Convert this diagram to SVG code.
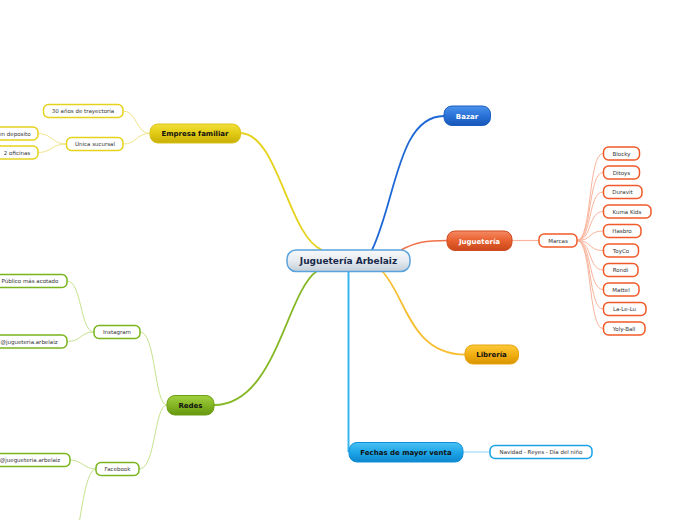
<svg xmlns="http://www.w3.org/2000/svg" width="696" height="520" viewBox="0 0 696 520">
<defs>
<linearGradient id="gC" x1="0" y1="0" x2="0" y2="1"><stop offset="0" stop-color="#f7f9fb"/><stop offset="0.5" stop-color="#e6ebf0"/><stop offset="1" stop-color="#c3ced8"/></linearGradient>
<linearGradient id="gY" x1="0" y1="0" x2="0" y2="1"><stop offset="0" stop-color="#f2e03a"/><stop offset="0.5" stop-color="#e2cb14"/><stop offset="1" stop-color="#c6ae06"/></linearGradient>
<linearGradient id="gB" x1="0" y1="0" x2="0" y2="1"><stop offset="0" stop-color="#4b93ea"/><stop offset="0.5" stop-color="#2a72d8"/><stop offset="1" stop-color="#1656b8"/></linearGradient>
<linearGradient id="gO" x1="0" y1="0" x2="0" y2="1"><stop offset="0" stop-color="#f58a64"/><stop offset="0.5" stop-color="#e8602e"/><stop offset="1" stop-color="#c9481c"/></linearGradient>
<linearGradient id="gA" x1="0" y1="0" x2="0" y2="1"><stop offset="0" stop-color="#fcca3a"/><stop offset="0.5" stop-color="#f2b012"/><stop offset="1" stop-color="#d99400"/></linearGradient>
<linearGradient id="gL" x1="0" y1="0" x2="0" y2="1"><stop offset="0" stop-color="#4cc2f4"/><stop offset="0.5" stop-color="#1ea6e8"/><stop offset="1" stop-color="#0d86cc"/></linearGradient>
<linearGradient id="gG" x1="0" y1="0" x2="0" y2="1"><stop offset="0" stop-color="#a2d040"/><stop offset="0.5" stop-color="#84b524"/><stop offset="1" stop-color="#66960e"/></linearGradient>
</defs>
<style>
text{font-family:"DejaVu Sans",Verdana,sans-serif;}
.main{font-size:7px;font-weight:bold;text-anchor:middle;}
.sub{font-size:5.5px;fill:#333;text-anchor:middle;}
.leaf{fill:#fff;stroke-width:1.5;}
.y{stroke:#e5d21c;} .g{stroke:#7ab51d;} .o{stroke:#f05a28;} .c{stroke:#1aa3e8;}
.cn{fill:none;}
</style>
<g id="connectors">
<path class="cn" d="M240,133 C278,133 288,236 322,250" stroke="#e5d21c" stroke-width="1.8"/>
<path class="cn" d="M372,250 C396,200 398,116 444,116" stroke="#1e68d6" stroke-width="1.8"/>
<path class="cn" d="M401,250 C416,242 426,240.5 447,240.5" stroke="#f07048" stroke-width="1.5"/>
<path class="cn" d="M382,271 C406,296 410,354.5 465,354.5" stroke="#f7be30" stroke-width="1.8"/>
<path class="cn" d="M348.5,271 L348.5,452" stroke="#38b4f0" stroke-width="2"/>
<path class="cn" d="M317,271 C286,292 276,405 214,405" stroke="#86b826" stroke-width="1.8"/>
<path class="cn" d="M463,452 L490,452" stroke="#8fd2f4" stroke-width="1"/>
<path class="cn" d="M512,240.5 L539,240.5" stroke="#f9b49c" stroke-width="1.2"/>
<g stroke="#f9b49c" stroke-width="1" fill="none">
<path d="M577,240.5 C592,240.5 588,153.5 603,153.5"/>
<path d="M577,240.5 C592,240.5 588,172.5 603,172.5"/>
<path d="M577,240.5 C592,240.5 588,192 603,192"/>
<path d="M577,240.5 C592,240.5 588,211.5 603,211.5"/>
<path d="M577,240.5 C592,240.5 588,231 603,231"/>
<path d="M577,240.5 C592,240.5 588,250.5 603,250.5"/>
<path d="M577,240.5 C592,240.5 588,270 603,270"/>
<path d="M577,240.5 C592,240.5 588,289.5 603,289.5"/>
<path d="M577,240.5 C592,240.5 588,309 603,309"/>
<path d="M577,240.5 C592,240.5 588,328.5 603,328.5"/>
</g>
<g stroke="#f1e58a" stroke-width="1" fill="none">
<path d="M150,133.5 C136,133.5 137,111 123,111"/>
<path d="M150,133.5 C136,133.5 137,144 123,144"/>
<path d="M66,144 C52,144 52,133.5 38,133.5"/>
<path d="M66,144 C52,144 52,152.5 38,152.5"/>
</g>
<g stroke="#c6e28e" stroke-width="1" fill="none">
<path d="M167,405 C154,405 156,332 140,332"/>
<path d="M167,405 C154,405 156,469 139,469"/>
<path d="M94,332 C80,332 82,281 67,281"/>
<path d="M94,332 C80,332 82,341.5 67,341.5"/>
<path d="M96,469 C84,469 82,460 70,460"/>
<path d="M96,469 C86,469 82,510 76,540"/>
</g>
</g>
<g id="central">
<rect x="287" y="250" width="123" height="21.5" rx="9" fill="url(#gC)" stroke="#5aa3dc" stroke-width="1.5"/>
<text x="348.5" y="264" style="font-size:9px;font-weight:bold;text-anchor:middle;fill:#17284a">Juguetería Arbelaiz</text>
</g>
<g id="empresa">
<rect x="150" y="124" width="90.5" height="19" rx="8" fill="url(#gY)" stroke="#d9c316" stroke-width="1"/>
<text class="main" x="195" y="136" fill="#111">Empresa familiar</text>
</g>
<g id="trayectoria"><rect class="leaf y" x="43.5" y="104.5" width="79.5" height="13" rx="5"/><text class="sub" x="83" y="113">30 años de trayectoria</text></g>
<g id="sucursal"><rect class="leaf y" x="66.5" y="137.5" width="56.5" height="13" rx="5"/><text class="sub" x="95" y="146">Única sucursal</text></g>
<g id="deposito"><rect class="leaf y" x="-20" y="127" width="58" height="13" rx="5"/><text class="sub" x="30.5" y="135.5" style="text-anchor:end">en deposito</text></g>
<g id="oficinas"><rect class="leaf y" x="-20" y="146" width="58" height="13" rx="5"/><text class="sub" x="17" y="154.5">2 oficinas</text></g>
<g id="bazar">
<rect x="444" y="106" width="46.5" height="19.5" rx="8" fill="url(#gB)" stroke="#1a5cc0" stroke-width="1"/>
<text class="main" x="467" y="118.5" fill="#fff">Bazar</text>
</g>
<g id="jugueteria">
<rect x="447" y="231" width="65" height="19.5" rx="8" fill="url(#gO)" stroke="#d04a20" stroke-width="1"/>
<text class="main" x="479.5" y="243.5" fill="#fff">Juguetería</text>
</g>
<g id="marcas"><rect class="leaf o" x="539" y="234" width="38" height="13" rx="5"/><text class="sub" x="558" y="242.5">Marcas</text></g>
<g id="blocky"><rect class="leaf o" x="603.5" y="147" width="36" height="13" rx="5"/><text class="sub" x="621.5" y="155.5">Blocky</text></g>
<g id="ditoys"><rect class="leaf o" x="603.5" y="166" width="36" height="13" rx="5"/><text class="sub" x="621.5" y="174.5">Ditoys</text></g>
<g id="duravit"><rect class="leaf o" x="603.5" y="185.5" width="38.5" height="13" rx="5"/><text class="sub" x="622.5" y="194">Duravit</text></g>
<g id="kuma"><rect class="leaf o" x="603.5" y="205" width="47.5" height="13" rx="5"/><text class="sub" x="627" y="213.5">Kuma Kids</text></g>
<g id="hasbro"><rect class="leaf o" x="603.5" y="224.5" width="37.5" height="13" rx="5"/><text class="sub" x="622" y="233">Hasbro</text></g>
<g id="toyco"><rect class="leaf o" x="603.5" y="244" width="35" height="13" rx="5"/><text class="sub" x="621" y="252.5">ToyCo</text></g>
<g id="rondi"><rect class="leaf o" x="603.5" y="263.5" width="34.5" height="13" rx="5"/><text class="sub" x="620.5" y="272">Rondi</text></g>
<g id="mattel"><rect class="leaf o" x="603.5" y="283" width="35.5" height="13" rx="5"/><text class="sub" x="621" y="291.5">Mattel</text></g>
<g id="lalelu"><rect class="leaf o" x="603.5" y="302.5" width="42.5" height="13" rx="5"/><text class="sub" x="624.5" y="311">La-Le-Lu</text></g>
<g id="yolyball"><rect class="leaf o" x="603.5" y="322" width="41.5" height="13" rx="5"/><text class="sub" x="624" y="330.5">Yoly-Ball</text></g>
<g id="libreria">
<rect x="465" y="345" width="53.5" height="19" rx="8" fill="url(#gA)" stroke="#e6a410" stroke-width="1"/>
<text class="main" x="491.5" y="357" fill="#111">Librería</text>
</g>
<g id="fechas">
<rect x="349" y="442.5" width="114" height="19.5" rx="8" fill="url(#gL)" stroke="#1090d8" stroke-width="1"/>
<text class="main" x="406" y="455" fill="#111">Fechas de mayor venta</text>
</g>
<g id="navidad"><rect class="leaf c" x="490" y="445.5" width="102" height="13" rx="5"/><text class="sub" x="541" y="454">Navidad - Reyes - Día del niño</text></g>
<g id="redes">
<rect x="167" y="395.5" width="47" height="19.5" rx="8" fill="url(#gG)" stroke="#6e9e14" stroke-width="1"/>
<text class="main" x="190.5" y="408" fill="#111">Redes</text>
</g>
<g id="instagram"><rect class="leaf g" x="94" y="325.5" width="46" height="13" rx="5"/><text class="sub" x="117" y="334">Instagram</text></g>
<g id="publico"><rect class="leaf g" x="-8" y="274.5" width="75" height="13" rx="5"/><text class="sub" x="30" y="283">Público más acotado</text></g>
<g id="ig-user"><rect class="leaf g" x="-8" y="335" width="75" height="13" rx="5"/><text class="sub" x="29" y="343.5">@jugueteria.arbelaiz</text></g>
<g id="facebook"><rect class="leaf g" x="96" y="462.5" width="43" height="13" rx="5"/><text class="sub" x="117.5" y="471">Facebook</text></g>
<g id="fb-user"><rect class="leaf g" x="-8" y="453.5" width="78" height="13" rx="5"/><text class="sub" x="30" y="462">@juegueteria.arbelaiz</text></g>
</svg>
